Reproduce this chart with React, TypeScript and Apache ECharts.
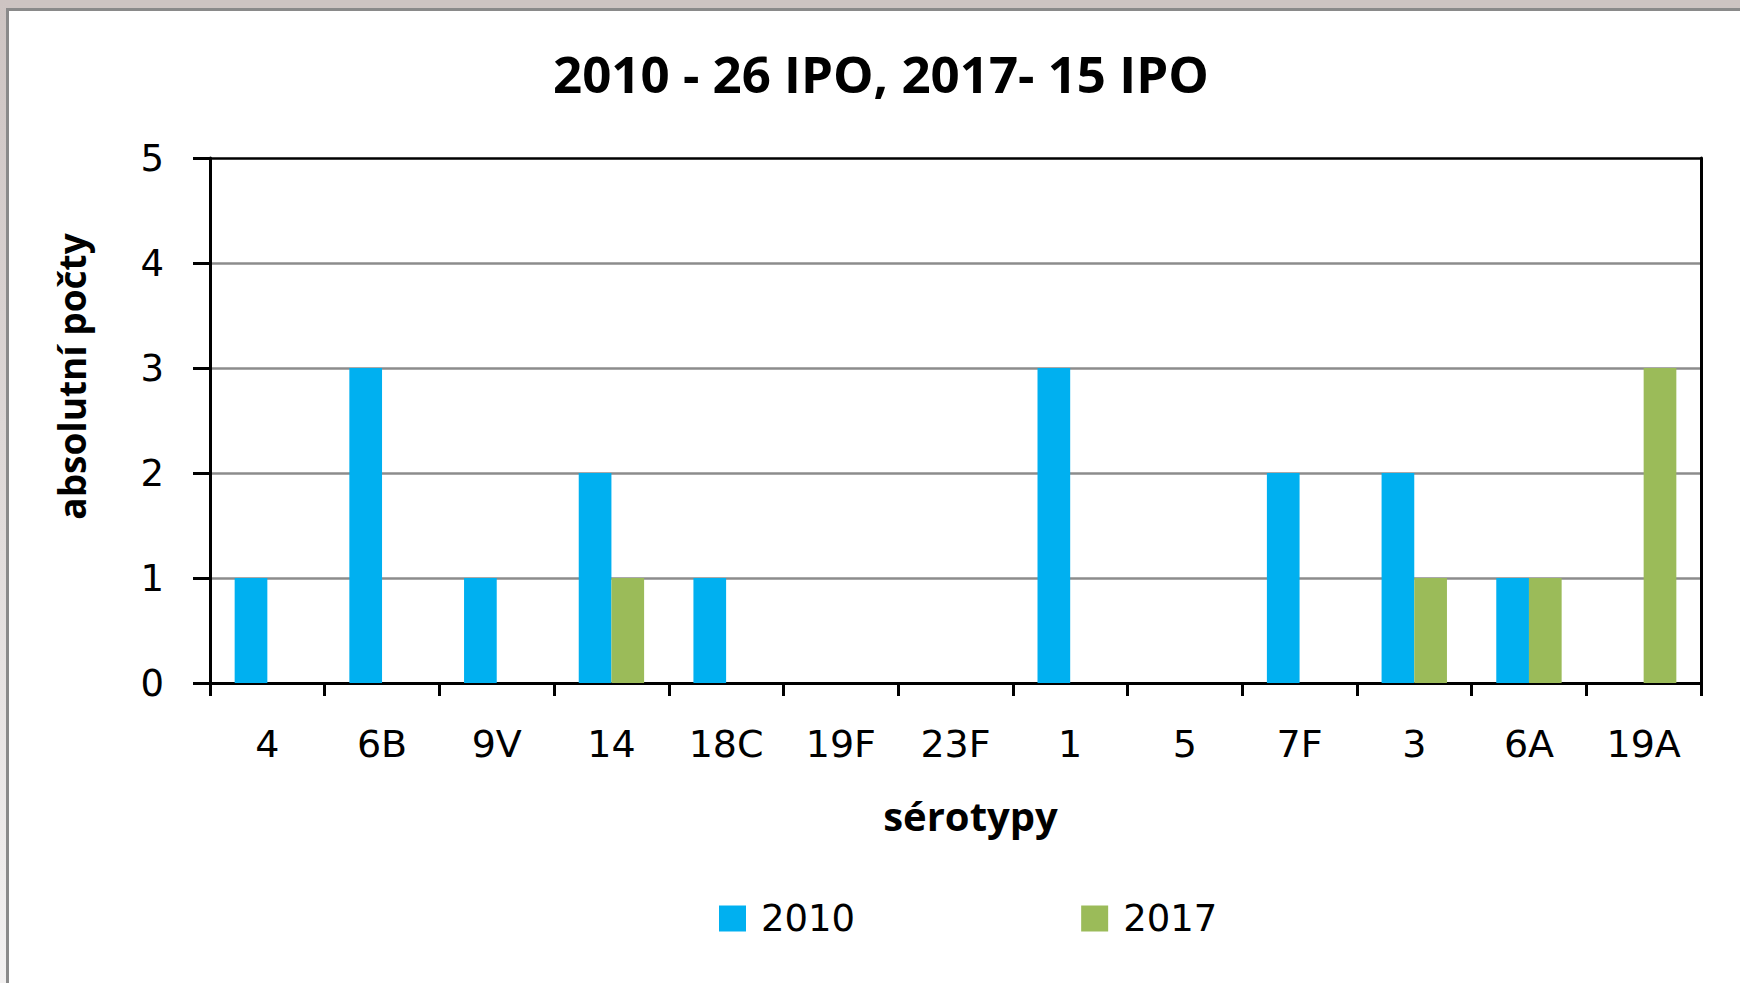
import React, { useEffect, useRef } from "react";
import * as echarts from "echarts";

const categories = ["4", "6B", "9V", "14", "18C", "19F", "23F", "1", "5", "7F", "3", "6A", "19A"];
const values2010 = [1, 3, 1, 2, 1, 0, 0, 3, 0, 2, 2, 1, 0];
const values2017 = [0, 0, 0, 1, 0, 0, 0, 0, 0, 0, 1, 1, 3];
const seriesNames = ["2010", "2017"];
const titleText = "2010 - 26 IPO, 2017- 15 IPO";
const yAxisName = "absolutní počty";
const xAxisName = "sérotypy";

const FONT = "'Open Sans', 'Noto Sans', sans-serif";
const LABEL_FONT = "'DejaVu Sans', 'Open Sans', sans-serif";

export default function App() {
  const ref = useRef<HTMLDivElement>(null);
  useEffect(() => {
    if (!ref.current) return;
    const chart = echarts.init(ref.current, null, { renderer: "svg" });
    const option = {
      animation: false,
      backgroundColor: "#ffffff",
      textStyle: { fontFamily: FONT, color: "#000" },
      title: {
        text: titleText,
        left: 553,
        top: 43,
        padding: 0,
        textStyle: { fontFamily: FONT, fontSize: 51, fontWeight: "bold", color: "#000", lineHeight: 60 },
      },
      graphic: [
        { type: "rect", shape: { x: 0, y: 0, width: 1740, height: 8 }, style: { fill: "#cdc4c2" }, silent: true },
        {
          type: "rect",
          shape: { x: 0, y: 0, width: 6, height: 983 },
          style: {
            fill: new echarts.graphic.LinearGradient(0, 0, 0, 1, [
              { offset: 0, color: "#cdc4c2" },
              { offset: 1, color: "#f2f0f0" },
            ]),
          },
          silent: true,
        },
        { type: "rect", shape: { x: 6, y: 8, width: 1734, height: 3 }, style: { fill: "#8a8a8a" }, silent: true },
        { type: "rect", shape: { x: 6, y: 8, width: 3, height: 975 }, style: { fill: "#8a8a8a" }, silent: true },
      ],
      legend: {
        data: seriesNames,
        left: 719,
        top: 900,
        padding: 0,
        itemWidth: 27,
        itemHeight: 26,
        itemGap: 226,
        icon: "rect",
        textStyle: { fontFamily: LABEL_FONT, fontSize: 37, color: "#000", padding: [0, 0, 0, 10] },
      },
      grid: { left: 210, right: 39, top: 158, bottom: 300, containLabel: false },
      xAxis: [
        {
          type: "category",
          data: categories,
          axisLine: { show: true, lineStyle: { color: "#000", width: 3 } },
          axisTick: { show: true, alignWithLabel: false, interval: 0, length: 13, lineStyle: { color: "#000", width: 3 } },
          axisLabel: { interval: 0, fontFamily: LABEL_FONT, fontSize: 38, color: "#000", margin: 42 },
          splitLine: { show: false },
          name: xAxisName,
          nameLocation: "middle",
          nameGap: 112,
          nameTextStyle: { fontFamily: FONT, fontSize: 40, fontWeight: "bold", color: "#000", padding: [0, 0, 0, 30] },
        },
      ],
      yAxis: [
        {
          type: "value",
          min: 0,
          max: 5,
          interval: 1,
          axisLine: { show: true, lineStyle: { color: "#000", width: 3 } },
          axisTick: { show: true, length: 17, lineStyle: { color: "#000", width: 3 } },
          axisLabel: { fontFamily: LABEL_FONT, fontSize: 37, color: "#000", margin: 46, padding: [10, 0, 0, 0] },
          splitLine: {
            show: true,
            lineStyle: { color: ["#000", "#8c8c8c", "#8c8c8c", "#8c8c8c", "#8c8c8c", "#000"], width: 2.5 },
          },
          name: yAxisName,
          nameLocation: "middle",
          nameGap: 120,
          nameTextStyle: { fontFamily: FONT, fontSize: 37, fontWeight: "bold", color: "#000", padding: [0, 0, 0, 88] },
        },
        {
          type: "value",
          position: "right",
          min: 0,
          max: 5,
          interval: 1,
          axisLine: { show: true, lineStyle: { color: "#000", width: 3 } },
          axisTick: { show: false },
          axisLabel: { show: false },
          splitLine: { show: false },
        },
      ],
      series: [
        {
          name: seriesNames[0],
          type: "bar",
          data: values2010,
          barGap: "0%",
          barCategoryGap: "43%",
          itemStyle: { color: "#00B0F0" },
        },
        {
          name: seriesNames[1],
          type: "bar",
          data: values2017,
          barGap: "0%",
          barCategoryGap: "43%",
          itemStyle: { color: "#9BBB59" },
        },
      ],
    };
    chart.setOption(option as any);
    return () => chart.dispose();
  }, []);
  return <div ref={ref} style={{ position: "fixed", left: 0, top: 0, width: 1740, height: 983 }} />;
}
